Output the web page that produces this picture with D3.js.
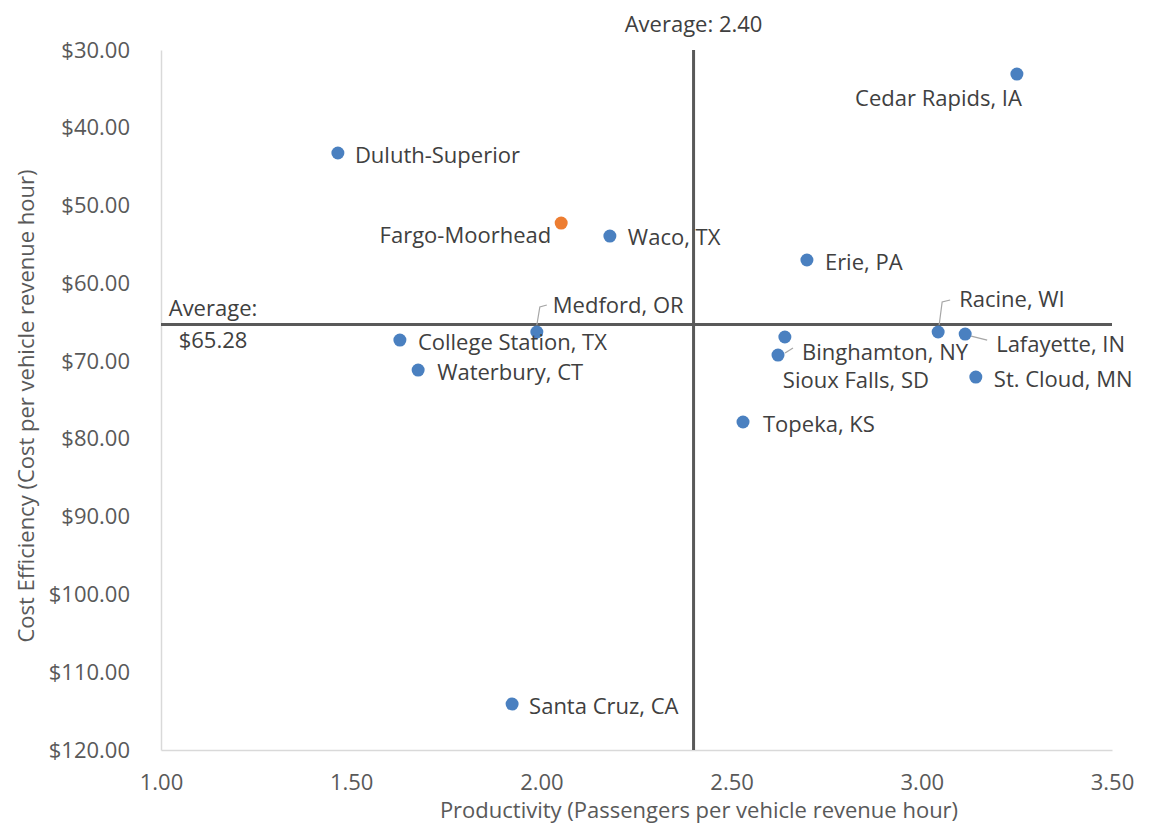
<!DOCTYPE html>
<html>
<head>
<meta charset="utf-8">
<script src="https://cdn.jsdelivr.net/npm/d3@7"></script>
<style>
  html, body { margin: 0; padding: 0; background: #ffffff; }
  svg { display: block; font-family: "Open Sans", "Noto Sans", sans-serif; }
</style>
</head>
<body>
<svg id="chart" width="1149" height="829"></svg>
<script>
// ---- data ----
const cities = ["Cedar Rapids, IA", "Duluth-Superior", "Fargo-Moorhead", "Waco, TX", "Erie, PA",
  "Medford, OR", "College Station, TX", "Waterbury, CT", "Santa Cruz, CA", "Sioux Falls, SD",
  "Binghamton, NY", "Topeka, KS", "Racine, WI", "Lafayette, IN", "St. Cloud, MN"];
const productivity = [3.25, 1.465, 2.052, 2.18, 2.698, 1.988, 1.628, 1.676, 1.923, 2.64,
  2.622, 2.53, 3.043, 3.114, 3.142];
const costPerHour = [33.09, 43.24, 52.25, 53.92, 57.0, 66.26, 67.29, 71.15, 114.09, 66.9,
  69.22, 77.83, 66.26, 66.52, 72.05];
const highlight = ["Fargo-Moorhead"];
const avgProductivity = 2.40;
const avgCost = 65.28;
const xTicks = [1.0, 1.5, 2.0, 2.5, 3.0, 3.5];
const yTicks = [30, 40, 50, 60, 70, 80, 90, 100, 110, 120];
const xTitle = "Productivity (Passengers per vehicle revenue hour)";
const yTitle = "Cost Efficiency (Cost per vehicle revenue hour)";

// ---- label layout (offsets from the point, in px) ----
const labelLayout = {
  "Cedar Rapids, IA":   { dx: 5,  dy: 32, anchor: "end" },
  "Duluth-Superior":    { dx: 17, dy: 10 },
  "Fargo-Moorhead":     { dx: -10, dy: 20, anchor: "end" },
  "Waco, TX":           { dx: 18, dy: 9 },
  "Erie, PA":           { dx: 18, dy: 10 },
  "Medford, OR":        { dx: 16, dy: -19, leader: [[0, -7], [3, -25], [10, -27]] },
  "College Station, TX":{ dx: 18, dy: 10 },
  "Waterbury, CT":      { dx: 19, dy: 10 },
  "Santa Cruz, CA":     { dx: 17, dy: 10 },
  "Sioux Falls, SD":    { dx: -2, dy: 51 },
  "Binghamton, NY":     { dx: 24, dy: 5, leader: [[7, -2], [15, -7]] },
  "Topeka, KS":         { dx: 20, dy: 10 },
  "Racine, WI":         { dx: 21, dy: -25, leader: [[1, -7], [4, -30], [12, -32]] },
  "Lafayette, IN":      { dx: 31, dy: 18, leader: [[6, 2], [22, 6]] },
  "St. Cloud, MN":      { dx: 18, dy: 10 }
};

const points = cities.map((c, i) => ({ name: c, x: productivity[i], y: costPerHour[i] }));

// ---- layout ----
const svg = d3.select("#chart");
const plot = { left: 161, right: 1112, top: 50, bottom: 750 };
const fs = 22;

const x = d3.scaleLinear().domain([1.0, 3.5]).range([plot.left, plot.right]);
const y = d3.scaleLinear().domain([30, 120]).range([plot.top, plot.bottom]);

const tickColor = "#595959";
const textColor = "#404040";

// axes
const xAxis = svg.append("g")
  .attr("transform", `translate(0,${plot.bottom})`)
  .call(d3.axisBottom(x).tickValues(xTicks).tickFormat(d3.format(".2f")).tickSize(0).tickPadding(24));
xAxis.select(".domain").attr("stroke", "#d9d9d9").attr("stroke-width", 1.5);
xAxis.selectAll("text").attr("font-size", fs).attr("fill", tickColor).attr("font-family", "Open Sans");

const yAxis = svg.append("g")
  .attr("transform", `translate(${plot.left},0)`)
  .call(d3.axisLeft(y).tickValues(yTicks).tickFormat(d => "$" + d3.format(".2f")(d)).tickSize(0).tickPadding(31));
yAxis.select(".domain").attr("stroke", "#d9d9d9").attr("stroke-width", 1.5);
yAxis.selectAll("text").attr("font-size", fs).attr("fill", tickColor).attr("font-family", "Open Sans");

// axis titles
svg.append("text")
  .attr("x", 699)
  .attr("y", 818)
  .attr("text-anchor", "middle")
  .attr("font-size", fs)
  .attr("fill", tickColor)
  .text(xTitle);

svg.append("text")
  .attr("transform", `translate(34,406) rotate(-90)`)
  .attr("text-anchor", "middle")
  .attr("font-size", fs)
  .attr("fill", tickColor)
  .text(yTitle);

// average lines
svg.append("line")
  .attr("x1", x(avgProductivity)).attr("x2", x(avgProductivity))
  .attr("y1", plot.top).attr("y2", plot.bottom)
  .attr("stroke", "#595959").attr("stroke-width", 3);
svg.append("line")
  .attr("x1", plot.left).attr("x2", plot.right)
  .attr("y1", y(avgCost)).attr("y2", y(avgCost))
  .attr("stroke", "#595959").attr("stroke-width", 3);

svg.append("text")
  .attr("x", x(avgProductivity))
  .attr("y", 32)
  .attr("text-anchor", "middle")
  .attr("font-size", fs)
  .attr("fill", textColor)
  .text("Average: " + d3.format(".2f")(avgProductivity));

const avgLbl = svg.append("text")
  .attr("x", 213)
  .attr("text-anchor", "middle")
  .attr("font-size", fs)
  .attr("fill", textColor);
avgLbl.append("tspan").attr("x", 213).attr("y", y(avgCost) - 8).text("Average:");
avgLbl.append("tspan").attr("x", 213).attr("y", y(avgCost) + 24).text("$" + d3.format(".2f")(avgCost));

// leader lines
const line = d3.line();
svg.append("g").selectAll("path")
  .data(points.filter(p => labelLayout[p.name] && labelLayout[p.name].leader))
  .join("path")
  .attr("d", p => line(labelLayout[p.name].leader.map(o => [x(p.x) + o[0], y(p.y) + o[1]])))
  .attr("fill", "none")
  .attr("stroke", "#a6a6a6")
  .attr("stroke-width", 1.2);

// points
svg.append("g").selectAll("circle")
  .data(points)
  .join("circle")
  .attr("cx", p => x(p.x))
  .attr("cy", p => y(p.y))
  .attr("r", 6.5)
  .attr("fill", p => highlight.includes(p.name) ? "#ED7D31" : "#4a80c0");

// labels
svg.append("g").selectAll("text")
  .data(points)
  .join("text")
  .attr("x", p => x(p.x) + labelLayout[p.name].dx)
  .attr("y", p => y(p.y) + labelLayout[p.name].dy)
  .attr("text-anchor", p => labelLayout[p.name].anchor || "start")
  .attr("font-size", fs)
  .attr("fill", textColor)
  .text(p => p.name);
</script>
</body>
</html>
